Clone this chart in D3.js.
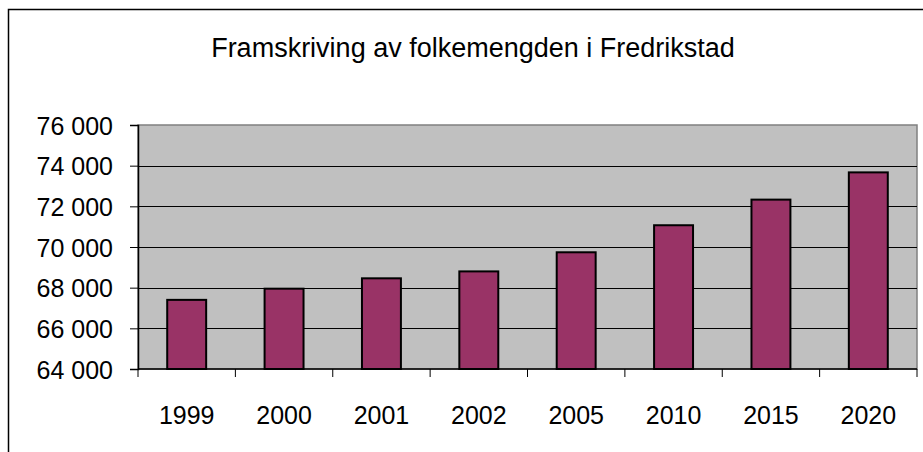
<!DOCTYPE html>
<html>
<head>
<meta charset="utf-8">
<script src="https://cdn.jsdelivr.net/npm/d3@7"></script>
<style>
  body { margin: 0; background: #fff; }
  text { font-family: "Liberation Sans", Arial, sans-serif; }
</style>
</head>
<body>
<script>
// data
var years = ["1999", "2000", "2001", "2002", "2005", "2010", "2015", "2020"];
var population = [67400, 67950, 68460, 68800, 69740, 71070, 72330, 73670];
var yTicks = [64000, 66000, 68000, 70000, 72000, 74000, 76000];

var W = 923, H = 452;
var plotLeft = 138, plotRight = 917, plotTop = 125, plotBottom = 369;

var svg = d3.select("body").append("svg")
    .attr("width", W)
    .attr("height", H);

// chart frame (runs off the right and bottom edges)
svg.append("rect")
    .attr("x", 10).attr("y", 11)
    .attr("width", W + 20).attr("height", H + 20)
    .attr("fill", "none").attr("stroke", "#808080").attr("stroke-width", 1.5);
svg.append("rect")
    .attr("x", 8.5).attr("y", 9.5)
    .attr("width", W + 20).attr("height", H + 20)
    .attr("fill", "#fff").attr("stroke", "#000").attr("stroke-width", 1.5);

svg.append("text")
    .attr("x", 473).attr("y", 57)
    .attr("text-anchor", "middle")
    .style("font-size", "27px")
    .text("Framskriving av folkemengden i Fredrikstad");

var x = d3.scaleBand().domain(years).range([plotLeft, plotRight]).paddingInner(0.6).paddingOuter(0.3);
var y = d3.scaleLinear().domain([64000, 76000]).range([plotBottom, plotTop]);

// plot background
svg.append("rect")
    .attr("x", plotLeft).attr("y", plotTop)
    .attr("width", plotRight - plotLeft).attr("height", plotBottom - plotTop)
    .attr("fill", "#c0c0c0")
    .attr("stroke", "#808080").attr("stroke-width", 1.5);

// gridlines
svg.append("g")
  .selectAll("line")
  .data(yTicks.slice(1, -1))
  .enter().append("line")
    .attr("x1", plotLeft).attr("x2", plotRight)
    .attr("y1", function(d) { return Math.round(y(d)) + 0.5; })
    .attr("y2", function(d) { return Math.round(y(d)) + 0.5; })
    .attr("stroke", "#000").attr("stroke-width", 1);

// bars
svg.append("g")
  .selectAll("rect")
  .data(population)
  .enter().append("rect")
    .attr("x", function(d, i) { return x(years[i]); })
    .attr("y", function(d) { return y(d); })
    .attr("width", x.bandwidth())
    .attr("height", function(d) { return plotBottom - y(d); })
    .attr("fill", "#993366")
    .attr("stroke", "#000").attr("stroke-width", 2);

// y axis
var yAxis = svg.append("g")
    .attr("transform", "translate(" + plotLeft + ",0)")
    .call(d3.axisLeft(y).tickValues(yTicks).tickSize(8).tickPadding(17)
      .tickFormat(function(d) { return d3.format(",")(d).replace(",", " "); }));
yAxis.select(".domain").attr("stroke", "#000").attr("stroke-width", 1.5);
yAxis.selectAll(".tick line").attr("stroke", "#000");
yAxis.selectAll("text")
    .attr("dy", "0.36em")
    .attr("fill", "#000")
    .style("font-size", "25px")
    .style("font-family", "Liberation Sans, Arial, sans-serif");

// x axis, ticks between categories
var xAxis = svg.append("g")
    .attr("transform", "translate(0," + plotBottom + ")");
xAxis.append("line")
    .attr("x1", plotLeft).attr("x2", plotRight)
    .attr("stroke", "#000").attr("stroke-width", 1.5);
var step = (plotRight - plotLeft) / years.length;
xAxis.selectAll("line.tick")
  .data(d3.range(years.length + 1))
  .enter().append("line")
    .attr("class", "tick")
    .attr("x1", function(i) { return plotLeft + i * step; })
    .attr("x2", function(i) { return plotLeft + i * step; })
    .attr("y1", 0).attr("y2", 8)
    .attr("stroke", "#000");
xAxis.selectAll("text")
  .data(years)
  .enter().append("text")
    .attr("x", function(d) { return x(d) + x.bandwidth() / 2; })
    .attr("y", 55)
    .attr("text-anchor", "middle")
    .style("font-size", "25px")
    .text(function(d) { return d; });
</script>
</body>
</html>
